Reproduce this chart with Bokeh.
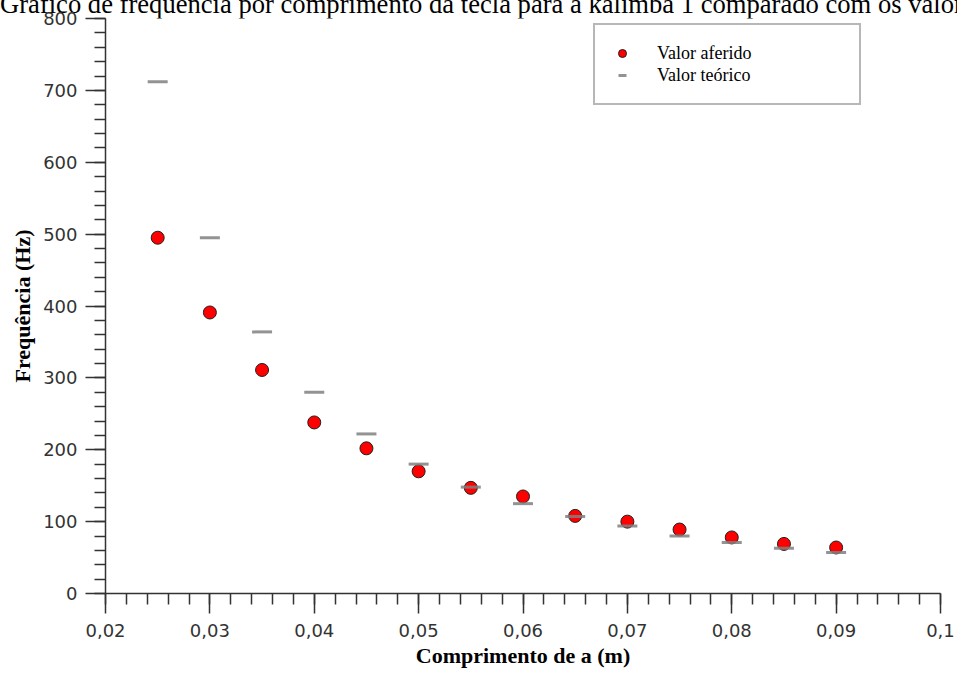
from bokeh.plotting import figure
from bokeh.models import (FixedTicker, CustomJSTickFormatter, Legend, LegendItem,
                          Div, ColumnDataSource, Range1d)
from bokeh.layouts import column
from bokeh.embed import file_html
from bokeh.resources import INLINE
import numpy as np

# ---- data ----
comprimento = [0.025, 0.030, 0.035, 0.040, 0.045, 0.050, 0.055,
               0.060, 0.065, 0.070, 0.075, 0.080, 0.085, 0.090]
valor_aferido = [495, 391, 311, 238, 202, 170, 147, 135, 108, 100, 89, 78, 69, 64]
valor_teorico = [712, 495, 364, 280, 222, 180, 148, 125, 107, 94, 80, 71, 63, 57]

x_ticks = [0.02, 0.03, 0.04, 0.05, 0.06, 0.07, 0.08, 0.09, 0.10]
y_ticks = [0, 100, 200, 300, 400, 500, 600, 700, 800]

title_text = ("Gráfico de frequência por comprimento da tecla para a kalimba 1 "
              "comparado com os valores teóricos")

src = ColumnDataSource(dict(x=comprimento, med=valor_aferido, teo=valor_teorico))

W = 957
TOP_STRIP = 8
p = figure(width=W, height=675 - TOP_STRIP, output_backend="svg", toolbar_location=None,
           x_range=Range1d(0.02, 0.1), y_range=Range1d(0, 800),
           min_border_left=105, min_border_right=17, min_border_top=10,
           min_border_bottom=82)
p.outline_line_color = None
p.xgrid.visible = False
p.ygrid.visible = False
p.background_fill_color = "white"
p.border_fill_alpha = 0

r_med = p.scatter("x", "med", source=src, marker="circle", size=13,
                  fill_color="#ff0000", line_color="#202020", line_width=1)
r_teo = p.scatter("x", "teo", source=src, marker="dash", size=20,
                  line_color="#808080", line_width=3, line_alpha=0.85)

# axes
tick_font = "DejaVu Sans"
lab_font = "Liberation Serif"
for ax in (p.xaxis[0], p.yaxis[0]):
    ax.axis_line_color = "#333333"
    ax.axis_line_width = 1.5
    ax.major_tick_line_color = "#333333"
    ax.minor_tick_line_color = "#333333"
    ax.major_tick_line_width = 1.5
    ax.minor_tick_line_width = 1.5
    ax.major_tick_in = 0
    ax.minor_tick_in = 0
    ax.major_tick_out = 20
    ax.minor_tick_out = 11
    ax.major_label_text_font = tick_font
    ax.major_label_text_font_size = "18px"
    ax.major_label_text_color = "#333333"
    ax.axis_label_text_font = lab_font
    ax.axis_label_text_font_style = "bold"
    ax.axis_label_text_font_size = "22px"
    ax.axis_label_text_color = "black"

p.xaxis[0].ticker = FixedTicker(ticks=x_ticks,
                                minor_ticks=list(np.round(np.arange(0.02, 0.1001, 0.002), 4)))
p.yaxis[0].ticker = FixedTicker(ticks=y_ticks, minor_ticks=list(range(0, 801, 20)))
p.xaxis[0].formatter = CustomJSTickFormatter(
    code="return (Math.round(tick*100)/100).toString().replace('.', ',');")
p.xaxis[0].axis_label = "Comprimento de a (m)"
p.yaxis[0].axis_label = "Frequência (Hz)"
p.xaxis[0].major_label_standoff = 10
p.yaxis[0].major_label_standoff = 8
p.xaxis[0].axis_label_standoff = 3
p.yaxis[0].axis_label_standoff = 5

# legend
legend = Legend(items=[LegendItem(label="Valor aferido", renderers=[r_med]),
                       LegendItem(label="Valor teórico", renderers=[r_teo])],
                location=(488, 488))
legend.border_line_color = "#707070"
legend.border_line_width = 2
legend.background_fill_color = "white"
legend.background_fill_alpha = 1
legend.padding = 17
legend.spacing = 0
legend.margin = 0
legend.glyph_width = 20
legend.glyph_height = 22
legend.label_height = 22
legend.label_width = 185
legend.label_standoff = 25
legend.label_text_font = lab_font
legend.label_text_font_size = "18px"
legend.label_text_color = "black"
p.add_layout(legend, "center")

# title strip (text runs past the window edge and is cut at the top, as in the reference)
title = Div(text=title_text, width=W, height=TOP_STRIP,
            styles={"font-family": "'Liberation Serif', serif", "font-size": "26.6px",
                    "line-height": "8px", "white-space": "nowrap",
                    "overflow-x": "clip", "overflow-y": "visible",
                    "color": "black", "margin": "0", "padding": "0"})

layout = column(title, p, spacing=0)
open("out.html", "w").write(file_html(layout, INLINE))
